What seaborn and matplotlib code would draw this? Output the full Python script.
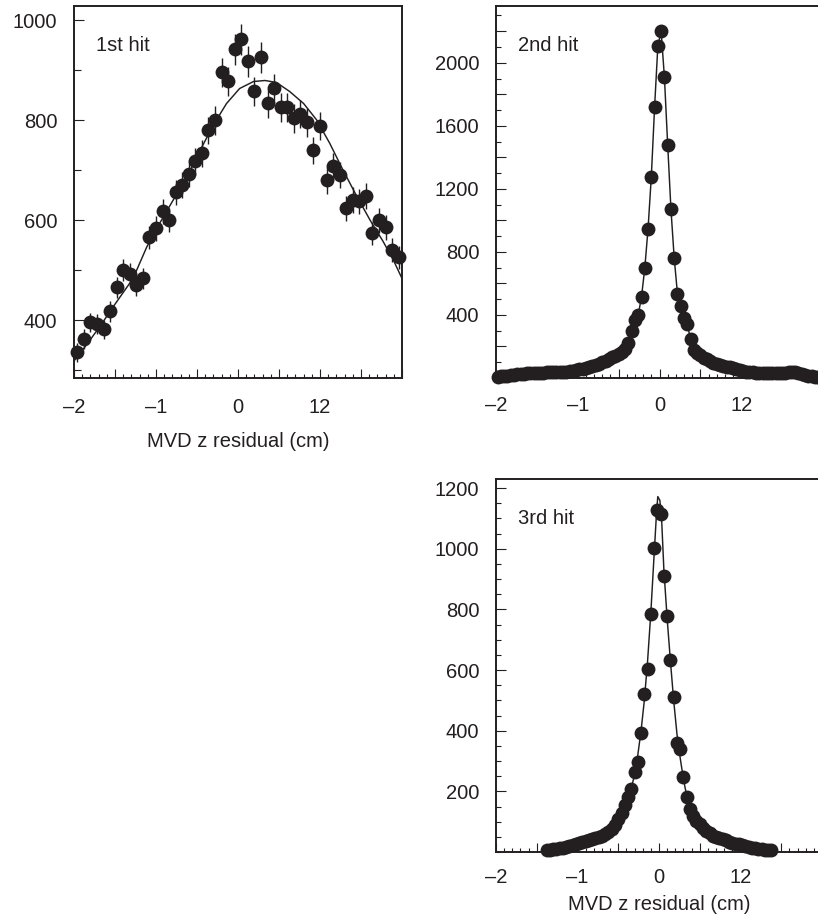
import numpy as np
import pandas as pd
import matplotlib
matplotlib.use("Agg")
import matplotlib.pyplot as plt
import seaborn as sns
from matplotlib.ticker import MultipleLocator

sns.set_theme(style="white")
plt.rcParams['font.family'] = ['Liberation Sans', 'DejaVu Sans']

INK = '#231f20'

# ---------------- data ----------------
# x tick labels as printed in the reference
xtick_pos = [-2, -1.5, -1, -0.5, 0, 0.5, 1, 1.5, 2]
xtick_labels = ['\u20132', '', '\u20131', '', '0', '', '12', '', '']
xlabel_text = 'MVD z residual (cm)'
panel_titles = ['1st hit', '2nd hit', '3rd hit']

# 1st hit: 50 bins of width 0.08
x1 = np.round(np.arange(-1.96, 2.0, 0.08), 2)
y1 = [335, 362, 395, 392, 381, 417, 465, 500, 492, 470,
      483, 565, 583, 617, 600, 655, 670, 692, 717, 733,
      779, 799, 895, 877, 941, 961, 917, 857, 925, 833,
      863, 825, 825, 803, 812, 795, 739, 788, 679, 707,
      690, 623, 640, 637, 648, 573, 599, 585, 540, 525]
fit1_x = [-2.0, -1.84, -1.68, -1.52, -1.28, -1.11, -0.95, -0.79, -0.63, -0.46, -0.30,
          -0.14, 0.02, 0.19, 0.33, 0.47, 0.63, 0.80, 0.96, 1.12, 1.28, 1.45,
          1.61, 1.77, 1.90, 2.0]
fit1_y = [318, 352, 388, 427, 483, 547, 595, 640, 683, 740, 790,
          833, 863, 877, 879, 875, 857, 833, 800, 753, 700, 647,
          600, 557, 518, 483]

# 2nd hit: 100 bins of width 0.04
x2 = np.round(np.arange(-1.98, 2.0, 0.04), 2)
y2 = [6, 10, 12, 15, 18, 22, 25, 26, 28, 30,
      30, 32, 33, 34, 33, 35, 36, 38, 39, 38,
      40, 41, 43, 46, 50, 54, 60, 66, 72, 76,
      82, 90, 100, 110, 122, 132, 142, 155, 168, 185,
      220, 300, 370, 400, 516, 697, 948, 1278, 1719, 2108,
      2199, 1909, 1480, 1071, 760, 533, 457, 380, 340, 245,
      180, 160, 145, 130, 118, 105, 95, 88, 82, 76,
      72, 68, 62, 55, 48, 42, 40, 38, 36, 34,
      33, 32, 31, 30, 30, 31, 30, 30, 33, 36,
      40, 38, 30, 25, 20, 15, 10, 6, 4, 3]

# 3rd hit: bins of width 0.04 from -1.38 to 1.38
x3 = np.round(np.arange(-1.38, 1.40, 0.04), 2)
y3 = [6, 8, 9, 10, 12, 14, 17, 19, 22, 26,
      29, 33, 37, 40, 43, 46, 50, 54, 59, 65,
      76, 90, 108, 130, 155, 180, 208, 265, 296, 394,
      521, 603, 784, 1002, 1127,
      1116, 910, 777, 633, 510, 361, 339, 246, 180, 142,
      120, 103, 92, 80, 70, 62, 54, 50, 46, 42,
      38, 34, 31, 28, 25, 22, 19, 16, 14, 12,
      11, 10, 8, 7, 6]
fit3_x = [-1.38, -1.0, -0.7, -0.5, -0.4, -0.34, -0.30, -0.26, -0.22, -0.18, -0.14,
          -0.10, -0.06, -0.03, -0.015, 0.01, 0.03, 0.06, 0.10, 0.14, 0.18, 0.22,
          0.26, 0.30, 0.34, 0.40, 0.5, 0.7, 1.0, 1.38]
fit3_y = [6, 27, 54, 105, 165, 210, 255, 320, 400, 500, 630,
          790, 980, 1120, 1172, 1160, 1110, 930, 770, 630, 500, 390,
          310, 240, 185, 130, 92, 50, 23, 6]

df1 = pd.DataFrame({'x': x1, 'y': y1})
df1['err'] = np.sqrt(df1['y'])
df2 = pd.DataFrame({'x': x2, 'y': y2})
df3 = pd.DataFrame({'x': x3, 'y': y3})
fit1 = pd.DataFrame({'x': fit1_x, 'y': fit1_y})
fit3 = pd.DataFrame({'x': fit3_x, 'y': fit3_y})

# ---------------- figure ----------------
W, H = 818, 921
fig = plt.figure(figsize=(W / 100, H / 100), dpi=100)
ax1 = fig.add_axes([74 / W, (H - 378) / H, 328 / W, 372 / H])
ax2 = fig.add_axes([496 / W, (H - 378) / H, 327 / W, 372 / H])
ax3 = fig.add_axes([496 / W, (H - 852) / H, 326 / W, 373 / H])

FS = 14.5
MS = 100
LW = 1.05

def style(ax, ylim, ymajor, ylabels, yminor, xpad=11, ymajlen=7.2, yminlen=3.6):
    ax.set_xlim(-2, 2)
    ax.set_ylim(*ylim)
    ax.set_xticks(xtick_pos, labels=xtick_labels)
    ax.xaxis.set_minor_locator(MultipleLocator(0.1))
    ax.set_yticks(ymajor, labels=ylabels)
    ax.yaxis.set_minor_locator(MultipleLocator(yminor))
    ax.tick_params(axis='x', which='major', direction='in', length=6.5, width=0.8,
                   color=INK, labelsize=FS, labelcolor=INK, pad=xpad, bottom=True, top=False)
    ax.tick_params(axis='x', which='minor', direction='in', length=2.9, width=0.8,
                   color=INK, bottom=True, top=False)
    ax.tick_params(axis='y', which='major', direction='in', length=ymajlen, width=0.8,
                   color=INK, labelsize=FS, labelcolor=INK, pad=12, left=True, right=False)
    ax.tick_params(axis='y', which='minor', direction='in', length=yminlen, width=0.8,
                   color=INK, left=True, right=False)
    for sp in ax.spines.values():
        sp.set_visible(True)
        sp.set_color(INK)
        sp.set_linewidth(1.4)
    ax.grid(False)
    ax.set_ylabel('')
    ax.set_xlabel('')

# panel 1
ax1.errorbar(df1['x'], df1['y'], yerr=df1['err'], fmt='none', ecolor=INK,
             elinewidth=1.0, capsize=0, zorder=2, clip_on=False)
sns.lineplot(data=fit1, x='x', y='y', ax=ax1, color=INK, lw=LW, estimator=None, zorder=3)
sns.scatterplot(data=df1, x='x', y='y', ax=ax1, s=MS, color=INK, edgecolor=INK,
                linewidth=0, zorder=4, clip_on=False)
style(ax1, (284, 1028), [400, 600, 800, 1000], ['400', '600', '800', '1000'], 100,
      xpad=14.5, ymajlen=7.5, yminlen=5.0)
ax1.set_xlabel(xlabel_text, fontsize=FS, color=INK, labelpad=10.5)

# panel 2
sns.lineplot(data=df2, x='x', y='y', ax=ax2, color=INK, lw=LW, estimator=None, zorder=3)
sns.scatterplot(data=df2, x='x', y='y', ax=ax2, s=MS, color=INK, edgecolor=INK,
                linewidth=0, zorder=4, clip_on=False)
y2major = [200, 400, 600, 800, 1000, 1200, 1400, 1600, 1800, 2000, 2200]
y2labels = [str(v) if v % 400 == 0 else '' for v in y2major]
style(ax2, (0, 2360), y2major, y2labels, 100, xpad=13)

# panel 3
sns.lineplot(data=fit3, x='x', y='y', ax=ax3, color=INK, lw=LW, estimator=None, zorder=3)
sns.scatterplot(data=df3, x='x', y='y', ax=ax3, s=MS, color=INK, edgecolor=INK,
                linewidth=0, zorder=4, clip_on=False)
style(ax3, (0, 1230), [200, 400, 600, 800, 1000, 1200],
      ['200', '400', '600', '800', '1000', '1200'], 50, xpad=11.5)
ax3.set_xlabel(xlabel_text, fontsize=FS, color=INK, labelpad=5.5)

for ax, t in zip([ax1, ax2, ax3], panel_titles):
    ax.text(0.066, 0.895, t, transform=ax.transAxes, fontsize=FS, color=INK,
            ha='left', va='center')

fig.savefig('out.png', dpi=100)
